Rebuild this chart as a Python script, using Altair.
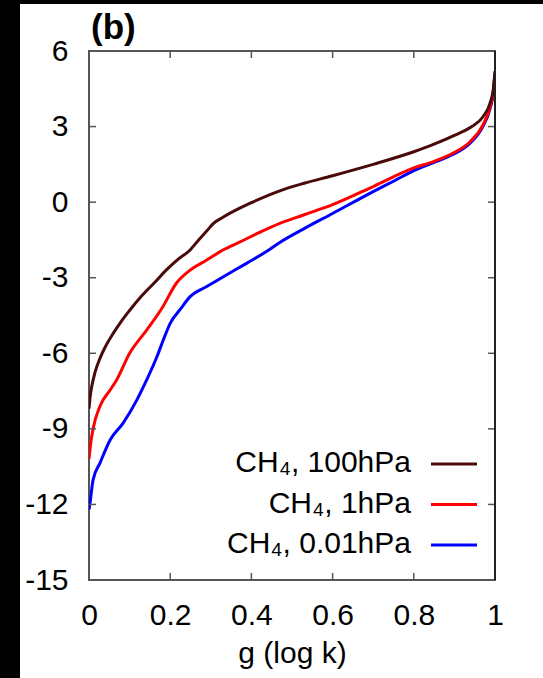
import altair as alt
import pandas as pd

# ---- data ----
g_100 = [0, 0.003, 0.007, 0.015, 0.027, 0.04, 0.06, 0.08, 0.1, 0.13, 0.167, 0.19, 0.217, 0.249, 0.27,
         0.29, 0.306, 0.33, 0.37, 0.4, 0.47, 0.53, 0.6, 0.7, 0.8, 0.85, 0.9, 0.94, 0.97, 0.988, 0.996, 1.0]
v_100 = [-8.2, -7.7, -7.3, -6.75, -6.2, -5.75, -5.2, -4.72, -4.3, -3.72, -3.1, -2.7, -2.3, -1.9, -1.5,
         -1.15, -0.85, -0.6, -0.25, -0.02, 0.45, 0.75, 1.05, 1.5, 2.0, 2.3, 2.65, 2.97, 3.38, 3.94, 4.5, 5.2]

g_1 = [0, 0.004, 0.01, 0.027, 0.052, 0.068, 0.1, 0.142, 0.18, 0.216, 0.249, 0.29, 0.33, 0.372, 0.42,
       0.47, 0.53, 0.6, 0.7, 0.8, 0.85, 0.897, 0.938, 0.97, 0.988, 0.996, 1.0]
v_1 = [-10.2, -9.6, -9.0, -8.1, -7.46, -7.06, -6.0, -5.08, -4.2, -3.2, -2.7, -2.3, -1.9, -1.58, -1.2,
       -0.84, -0.5, -0.1, 0.62, 1.36, 1.62, 1.95, 2.39, 3.06, 3.78, 4.4, 5.15]

g_001 = [0, 0.002, 0.01, 0.027, 0.052, 0.084, 0.118, 0.142, 0.167, 0.183, 0.2, 0.225, 0.249, 0.29, 0.331,
         0.388, 0.438, 0.47, 0.53, 0.6, 0.7, 0.75, 0.8, 0.85, 0.897, 0.938, 0.97, 0.988, 0.996, 1.0]
v_001 = [-12.2, -12.0, -11.03, -10.36, -9.44, -8.77, -7.85, -7.06, -6.15, -5.47, -4.81, -4.25, -3.75, -3.35, -2.96,
         -2.43, -1.95, -1.6, -1.05, -0.45, 0.42, 0.83, 1.25, 1.58, 1.9, 2.33, 3.0, 3.72, 4.35, 5.05]

legend_labels = ["CH\u2084, 100hPa", "CH\u2084, 1hPa", "CH\u2084, 0.01hPa"]
legend_colors = ["#4a0a0a", "#ff0000", "#0000ff"]

x_ticks = [0, 0.2, 0.4, 0.6, 0.8, 1]
y_ticks = [-15, -12, -9, -6, -3, 0, 3, 6]
x_inner_ticks = [0.2, 0.4, 0.6, 0.8]
y_inner_ticks = [-12, -9, -6, -3, 0, 3]

panel_label = "(b)"
x_title = "g (log k)"

# ---- layout ----
W, H = 406, 529
PAD = {"left": 89, "top": 51, "right": 48, "bottom": 98}
FONT = "Liberation Sans"
FS = 30

x_scale = alt.Scale(domain=[0, 1], nice=False, zero=False)
y_scale = alt.Scale(domain=[-15, 6], nice=False, zero=False)

x_axis = alt.Axis(values=x_ticks, labelExpr="'' + datum.value", title=x_title, grid=False,
                  ticks=False, tickSize=0, domain=False, labelPadding=20, labelFontSize=FS,
                  labelFont=FONT, labelColor="black", labelFlush=False, labelOverlap=False,
                  titleFontSize=FS, titleFont=FONT, titleFontWeight="normal", titleColor="black",
                  titlePadding=8)
y_axis = alt.Axis(values=y_ticks, labelExpr="'' + datum.value", title=None, grid=False,
                  ticks=False, tickSize=0, domain=False, labelPadding=21, labelFontSize=FS,
                  labelFont=FONT, labelColor="black", labelFlush=False, labelOverlap=False)

one = pd.DataFrame({"a": [0]})


def X(field):
    return alt.X(field, scale=x_scale, axis=x_axis, title=x_title)


def Y(field):
    return alt.Y(field, scale=y_scale, axis=y_axis, title=None)


def line(g, v, color):
    df = pd.DataFrame({"g": g, "v": v})
    return alt.Chart(df).mark_line(color=color, strokeWidth=3, clip=True,
                                   interpolate="monotone").encode(x=X("g:Q"), y=Y("v:Q"))


blue = line(g_001, v_001, legend_colors[2])
red = line(g_1, v_1, legend_colors[1])
dark = line(g_100, v_100, legend_colors[0])

xt = pd.DataFrame({"g": x_inner_ticks})
yt = pd.DataFrame({"v": y_inner_ticks})
tick_style = dict(color="#555", strokeWidth=1.5)
xt_bottom = alt.Chart(xt).mark_rule(**tick_style).encode(
    x=X("g:Q"), y=alt.value(H - 7), y2=alt.value(H))
xt_top = alt.Chart(xt).mark_rule(**tick_style).encode(
    x=X("g:Q"), y=alt.value(0), y2=alt.value(7))
yt_left = alt.Chart(yt).mark_rule(**tick_style).encode(
    y=Y("v:Q"), x=alt.value(0), x2=alt.value(7))
yt_right = alt.Chart(yt).mark_rule(**tick_style).encode(
    y=Y("v:Q"), x=alt.value(W - 7), x2=alt.value(W))

right_edge = alt.Chart(one).mark_rule(color="#222", strokeWidth=2).encode(
    x=alt.value(W), y=alt.value(0), y2=alt.value(H))

# legend (label left, line right)
legend_layers = []
for i, (lab, col) in enumerate(zip(legend_labels, legend_colors)):
    base_y = 421 + i * 40.5
    legend_layers.append(
        alt.Chart(one).mark_text(align="right", baseline="alphabetic", fontSize=FS, font=FONT,
                                 color="black").encode(
            x=alt.value(322), y=alt.value(base_y), text=alt.value(lab)))
    legend_layers.append(
        alt.Chart(one).mark_rule(color=col, strokeWidth=3).encode(
            x=alt.value(342), x2=alt.value(388), y=alt.value(base_y - 8)))

panel = alt.Chart(one).mark_text(align="left", baseline="alphabetic", fontSize=35, font=FONT,
                                 fontWeight="bold", color="black").encode(
    x=alt.value(2), y=alt.value(-12), text=alt.value(panel_label))

# black strips at the left and top edges of the picture
strip_left = alt.Chart(one).mark_rect(color="black").encode(
    x=alt.value(-PAD["left"]), x2=alt.value(-PAD["left"] + 20),
    y=alt.value(-PAD["top"]), y2=alt.value(H + PAD["bottom"]))
strip_top = alt.Chart(one).mark_rect(color="black").encode(
    x=alt.value(-PAD["left"]), x2=alt.value(W + PAD["right"]),
    y=alt.value(-PAD["top"]), y2=alt.value(-PAD["top"] + 4))

chart = alt.layer(
    blue, red, dark, xt_bottom, xt_top, yt_left, yt_right, right_edge,
    *legend_layers, panel, strip_left, strip_top
).properties(
    width=W, height=H, padding=PAD, autosize="none", background="white"
).configure_view(stroke="#555", strokeWidth=2)

chart.save("out.html", embed_options={"renderer": "svg", "actions": False})
